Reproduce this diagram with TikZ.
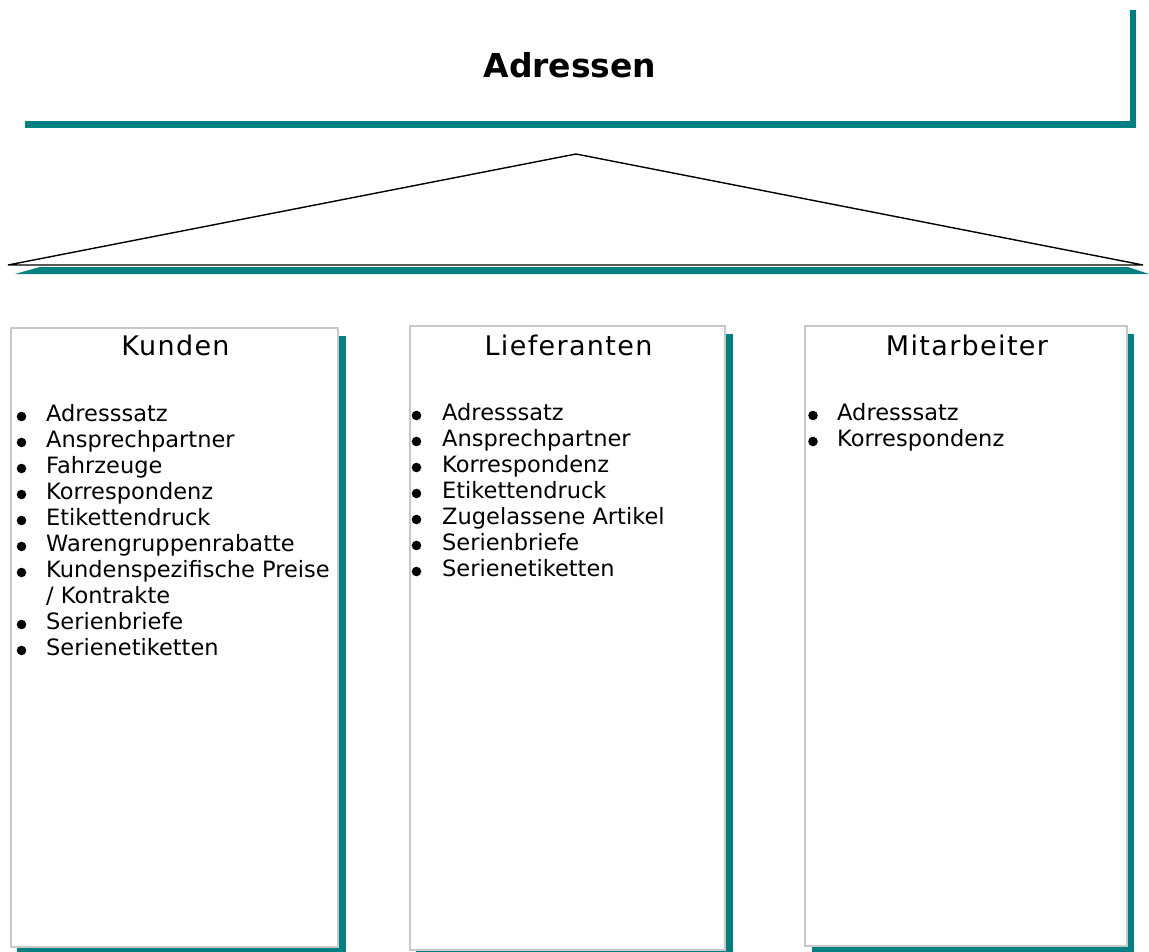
\documentclass[tikz,border=0pt]{standalone}
\usepackage{fontspec}
\setmainfont{DejaVu Sans}
\newfontfamily\headfont[LetterSpace=5]{DejaVu Sans}
\definecolor{shadowteal}{RGB}{0,128,128}
\definecolor{framegray}{RGB}{200,200,200}
\tikzstyle{title}=[font=\bfseries\fontsize{33}{40}\selectfont, anchor=base, inner sep=0pt]
\tikzstyle{heading}=[font=\headfont\fontsize{27}{30}\selectfont, anchor=base, inner sep=0pt]
\tikzstyle{item}=[font=\fontsize{22.5}{26}\selectfont, anchor=base west, inner sep=0pt]
\tikzstyle{panel}=[draw=framegray, line width=1.5pt, fill=white]
\tikzstyle{shadow}=[fill=shadowteal]

\begin{document}
\begin{tikzpicture}[x=1pt,y=-1pt]
\useasboundingbox (0,0) rectangle (1149,951);
% title bar
\fill [shadow] (1130,10) rectangle (1136,128);
\fill [shadow] (25,121) rectangle (1136,128);
\node [title] (adressen) at (570,77) {Adressen};
% roof
\coordinate (apex) at (576,154);
\coordinate (eaveleft) at (8,265);
\coordinate (eaveright) at (1143,265);
\fill [shadow] (15,274) -- (40,267) -- (1128,267) -- (1149,274) -- cycle;
\draw [line width=1.4pt] (eaveleft) -- (apex) -- (eaveright) -- cycle;
% the three panels
\fill [shadow] (17,336) rectangle (346,960);
\draw [panel] (11,328) rectangle (338,947);
\fill [shadow] (416,334) rectangle (733,960);
\draw [panel] (410,326) rectangle (725,950);
\fill [shadow] (812,334) rectangle (1134,960);
\draw [panel] (805,326) rectangle (1127,946);
\node [heading] (kunden) at (175.5,355) {Kunden};
\node [heading] (lieferanten) at (568.5,355) {Lieferanten};
\node [heading] (mitarbeiter) at (967,355) {Mitarbeiter};
% Kunden
\foreach \txt [count=\i from 0] in {Adresssatz, Ansprechpartner, Fahrzeuge,
    Korrespondenz, Etikettendruck, Warengruppenrabatte, Kundenspezifische Preise}
{
  \node [item] (kunden-\i) at (46,421+26*\i) {\txt};
  \fill (21.5,416.5+26*\i) circle (4.8);
}
\node [item] (kunden-7) at (46,421+26*7) {/ Kontrakte};
\foreach \txt [count=\i from 8] in {Serienbriefe, Serienetiketten}
{
  \node [item] (kunden-\i) at (46,421+26*\i) {\txt};
  \fill (21.5,416.5+26*\i) circle (4.8);
}
% Lieferanten
\foreach \txt [count=\i from 0] in {Adresssatz, Ansprechpartner, Korrespondenz,
    Etikettendruck, Zugelassene Artikel, Serienbriefe, Serienetiketten}
{
  \node [item] (lieferanten-\i) at (442,420+26*\i) {\txt};
  \fill (416.5,415.5+26*\i) circle (4.8);
}
% Mitarbeiter
\foreach \txt [count=\i from 0] in {Adresssatz, Korrespondenz}
{
  \node [item] (mitarbeiter-\i) at (837,420+26*\i) {\txt};
  \fill (813,415.5+26*\i) circle (4.8);
}
\end{tikzpicture}
\end{document}
